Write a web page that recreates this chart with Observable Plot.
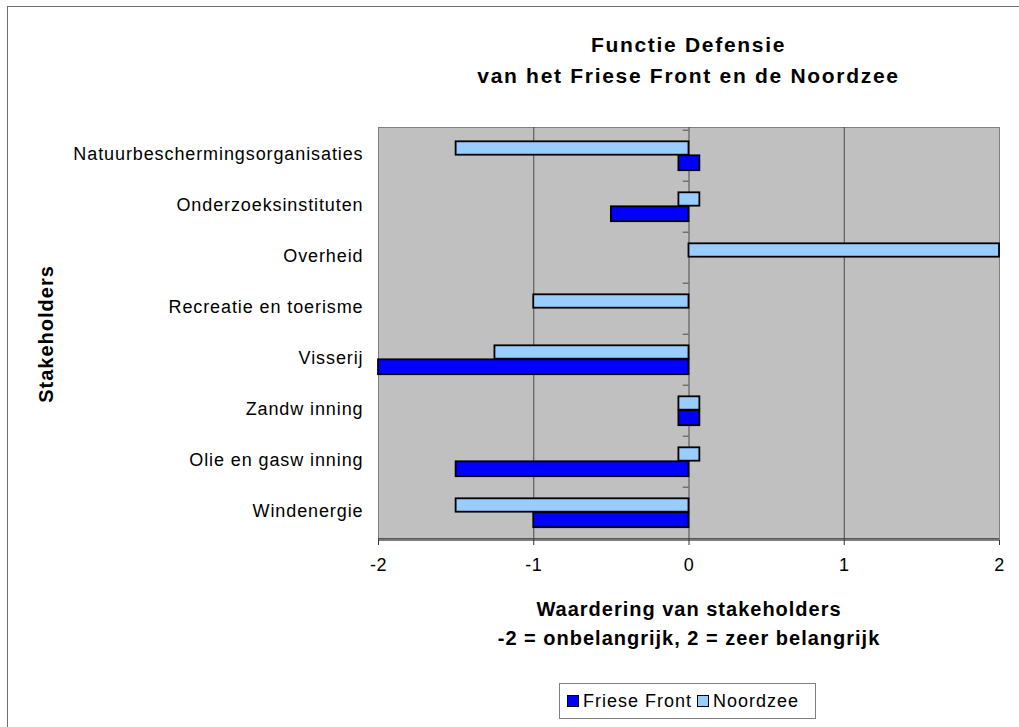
<!DOCTYPE html>
<html><head><meta charset="utf-8">
<script src="https://cdn.jsdelivr.net/npm/d3@7"></script>
<script src="https://cdn.jsdelivr.net/npm/@observablehq/plot@0.6"></script>
<style>
body{margin:0;background:#fff;font-family:"Liberation Sans",Arial,sans-serif;color:#000;}
#wrap{position:relative;width:1019px;height:727px;overflow:hidden;}
#border{position:absolute;left:7px;top:6px;width:1100px;height:800px;border-left:1px solid #6e6e6e;border-top:1px solid #6e6e6e;}
#title{position:absolute;left:378px;width:621px;top:29px;text-align:center;font-weight:bold;font-size:21px;letter-spacing:1.7px;line-height:31px;white-space:nowrap;}
#chart{position:absolute;left:0;top:110px;}
#legend{position:absolute;left:559px;top:683px;width:257px;height:36px;border:1px solid #808080;box-sizing:border-box;display:flex;align-items:center;font-size:18px;letter-spacing:1px;white-space:nowrap;}
#legend .sw{display:inline-block;width:10px;height:10px;border:1px solid #000;margin:0 4px 0 7px;}
</style></head>
<body><div id="wrap"><div id="border"></div><div id="title"></div><div id="chart"></div><div id="legend"></div></div>
<script>
const categories = ["Natuurbeschermingsorganisaties","Onderzoeksinstituten","Overheid","Recreatie en toerisme","Visserij","Zandw inning","Olie en gasw inning","Windenergie"];
const seriesNames = ["Friese Front","Noordzee"];
const seriesColors = ["#0000ff","#99ccff"];
const frieseFront = [0, -0.5, null, null, -2, 0, -1.5, -1];
const noordzee = [-1.5, 0, 2, -1, -1.25, 0, 0, -1.5];
const xTicks = [-2, -1, 0, 1, 2];
const zeroMarker = [-0.065, 0.07];
const titleLines = ["Functie Defensie", "van het Friese Front en de Noordzee"];
const xTitle = "Waardering van stakeholders\n-2 = onbelangrijk, 2 = zeer belangrijk";
const yTitle = "Stakeholders";

document.getElementById("title").innerHTML = titleLines.join("<br>");

function rows(values) {
  return categories.map((c, i) => ({cat: c, v: values[i]}))
    .filter(d => d.v !== null)
    .map(d => ({cat: d.cat, x1: d.v === 0 ? zeroMarker[0] : 0, x2: d.v === 0 ? zeroMarker[1] : d.v}));
}
const fRows = rows(frieseFront);
const nRows = rows(noordzee);

const W = 1019, H = 560, mT = 17, mB = 130, mL = 378, mR = 20;
const step = (H - mT - mB) / categories.length;
const half = step / 2;

const plot = Plot.plot({
  width: W, height: H, marginTop: mT, marginBottom: mB, marginLeft: mL, marginRight: mR,
  style: {fontFamily: "Liberation Sans, Arial, sans-serif", fontSize: "18px", color: "#000", background: "transparent", overflow: "visible"},
  x: {domain: [xTicks[0], xTicks[xTicks.length - 1]], label: null},
  y: {domain: categories, padding: 0, label: null},
  marks: [
    Plot.frame({fill: "#c0c0c0", stroke: "#808080"}),
    Plot.ruleX(xTicks.slice(1, -1), {stroke: "#4a4a4a", strokeWidth: 1}),
    Plot.ruleY(categories, {x1: -0.037, x2: 0, dy: -half, stroke: "#4a4a4a"}),
    Plot.barX(nRows, {y: "cat", x1: "x1", x2: "x2", fill: seriesColors[1], stroke: "#000", strokeWidth: 1.8, insetTop: half - 14.5, insetBottom: half + 0.5}),
    Plot.barX(fRows, {y: "cat", x1: "x1", x2: "x2", fill: seriesColors[0], stroke: "#000", strokeWidth: 1.8, insetTop: half - 0.5, insetBottom: half - 15}),
    Plot.ruleY([categories[categories.length - 1]], {x1: xTicks[0], x2: xTicks[xTicks.length - 1], dy: half, stroke: "#333", strokeWidth: 1.2}),
    Plot.axisX({ticks: xTicks, tickSize: 5, tickPadding: 13, fontSize: 18, stroke: "#333", label: null, tickFormat: d => String(d).replace("\u2212", "-")}),
    Plot.axisY({tickSize: 0, tickPadding: 15, fontSize: 18, dy: -2, label: null}),
    Plot.text([xTitle], {frameAnchor: "bottom", dy: 55, lineAnchor: "top", fontWeight: "bold", fontSize: 20, lineHeight: 1.45}),
    Plot.text([yTitle], {frameAnchor: "left", dx: 46 - mL, rotate: -90, textAnchor: "middle", fontWeight: "bold", fontSize: 20})
  ]
});
document.getElementById("chart").appendChild(plot);
const svg = d3.select(plot);
svg.selectAll('g[aria-label="y-axis tick label"] text').style("letter-spacing", "0.9px");
svg.selectAll('g[aria-label="x-axis tick label"] text').style("letter-spacing", "0.5px");
svg.selectAll('g[aria-label="text"] text').style("letter-spacing", "1px");

const lg = document.getElementById("legend");
seriesNames.forEach((n, i) => {
  const s = document.createElement("span"); s.className = "sw"; s.style.background = seriesColors[i];
  if (i > 0) s.style.marginLeft = "5px";
  lg.appendChild(s);
  lg.appendChild(document.createTextNode(n));
});
</script></body></html>
